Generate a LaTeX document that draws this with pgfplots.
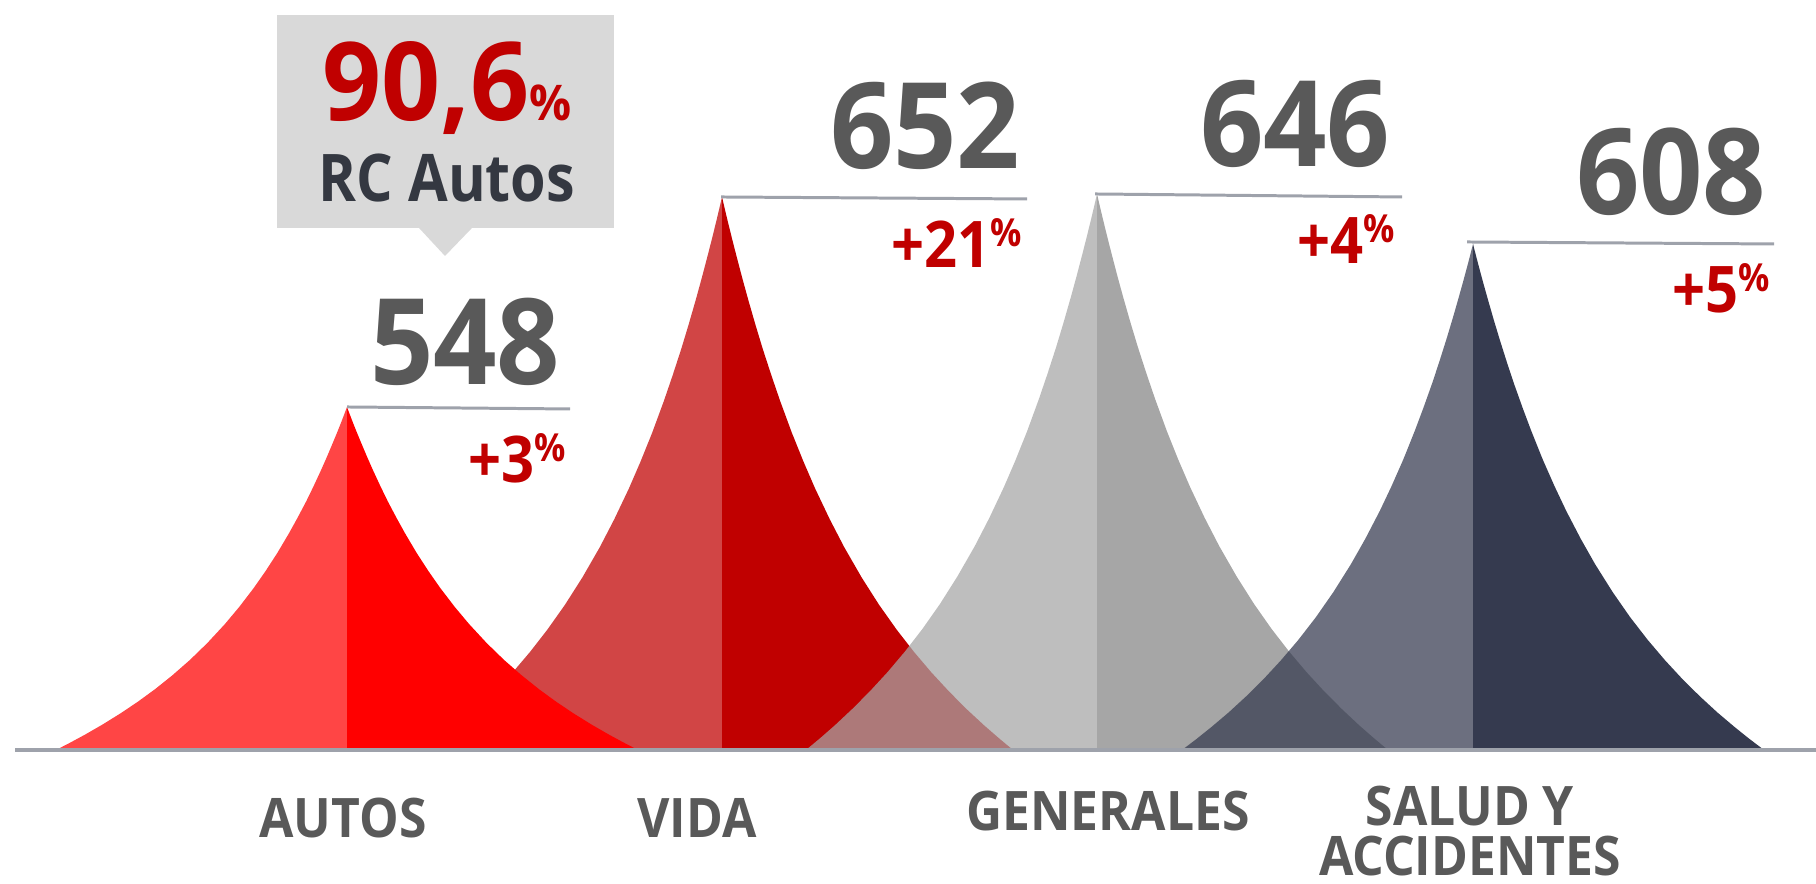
\documentclass[border=0pt]{standalone}
\usepackage{pgfplots}
\pgfplotsset{compat=1.18}
\usepackage{pgfplotstable}
\usepackage{graphicx}
\usepackage{fontspec}
\setmainfont{Open Sans}
\definecolor{numgray}{HTML}{595959}
\definecolor{pctred}{HTML}{C00000}
\definecolor{callout}{HTML}{D9D9D9}
\definecolor{rcdark}{HTML}{343841}
\definecolor{linec}{HTML}{9EA2AB}
\definecolor{cA}{HTML}{FF0000}
\definecolor{cV}{HTML}{C00000}
\definecolor{cG}{HTML}{A6A6A6}
\definecolor{cS}{HTML}{353A4F}
\newcommand{\hs}[2]{\scalebox{#1}[1]{#2}}

% peak outlines: horizontal distance from the peak, height above the base line
\pgfplotstableread{
dx     hA     hV     hG     hS
0      343    553    556    506
2.9    335.3  540.6  543.5  494.6
5.8    327.7  528.4  531.3  483.5
10.2   316.7  510.6  513.4  467.2
14.6   306.1  493.4  496.1  451.5
20.4   292.4  471.4  473.9  431.3
26.2   279.3  450.3  452.7  412.0
33.5   263.6  425.0  427.3  388.9
40.7   248.8  401.2  403.4  367.1
49.5   232.1  374.2  376.2  342.4
58.2   216.4  348.8  350.7  319.2
69.8   196.8  317.3  319.0  290.3
81.5   178.8  288.3  289.8  263.8
93.1   162.2  261.5  262.9  239.3
107.7  143.1  230.8  232.0  211.2
122.2  125.8  202.8  203.9  185.6
139.7  106.9  172.4  173.4  157.8
157.1  90.0   145.1  145.9  132.8
174.6  74.7   120.4  121.0  110.2
192.1  60.7   97.9   98.4   89.6
209.5  48.0   77.4   77.8   70.8
227.0  36.3   58.5   58.8   53.5
244.4  25.5   41.0   41.3   37.5
261.9  15.4   24.8   24.9   22.7
276.5  7.5    12.1   12.1   11.0
291.0  0      0      0      0
}\peaks

\begin{document}
\begin{tikzpicture}
\useasboundingbox (0,0) rectangle (18.16cm,8.84cm);
\begin{axis}[
  at={(0,0)}, anchor=south west,
  scale only axis, width=18.16cm, height=8.84cm,
  xmin=0, xmax=1816, ymin=-134, ymax=750,
  hide axis, clip=false,
]
% VIDA (peak at x=722)
\addplot[draw=none, fill=cV, fill opacity=0.73] table[x expr=722-\thisrow{dx}, y=hV] {\peaks} \closedcycle;
\addplot[draw=none, fill=cV] table[x expr=722+\thisrow{dx}, y=hV] {\peaks} \closedcycle;
% AUTOS (peak at x=347)
\addplot[draw=none, fill=cA, fill opacity=0.73] table[x expr=347-\thisrow{dx}, y=hA] {\peaks} \closedcycle;
\addplot[draw=none, fill=cA] table[x expr=347+\thisrow{dx}, y=hA] {\peaks} \closedcycle;
% GENERALES (peak at x=1097)
\addplot[draw=none, fill=cG, fill opacity=0.73] table[x expr=1097-\thisrow{dx}, y=hG] {\peaks} \closedcycle;
\addplot[draw=none, fill=cG] table[x expr=1097+\thisrow{dx}, y=hG] {\peaks} \closedcycle;
% SALUD Y ACCIDENTES (peak at x=1473)
\addplot[draw=none, fill=cS, fill opacity=0.73] table[x expr=1473-\thisrow{dx}, y=hS] {\peaks} \closedcycle;
\addplot[draw=none, fill=cS] table[x expr=1473+\thisrow{dx}, y=hS] {\peaks} \closedcycle;

% base line and peak lines
\addplot[linec, line width=1pt] coordinates {(15,0) (1816,0)};
\addplot[linec, line width=0.85pt] coordinates {(347,343) (570,341)};
\addplot[linec, line width=0.85pt] coordinates {(721,553) (1027,551)};
\addplot[linec, line width=0.85pt] coordinates {(1095,556) (1402,553)};
\addplot[linec, line width=0.85pt] coordinates {(1467,508) (1774,506)};

% values
\node[anchor=base east, inner sep=0, text=numgray, font=\bfseries\fontsize{34}{36}\selectfont] at (axis cs:561,365) {\hs{0.93}{548}};
\node[anchor=base east, inner sep=0, text=numgray, font=\bfseries\fontsize{34}{36}\selectfont] at (axis cs:1021,581) {\hs{0.93}{652}};
\node[anchor=base east, inner sep=0, text=numgray, font=\bfseries\fontsize{34}{36}\selectfont] at (axis cs:1391,583) {\hs{0.93}{646}};
\node[anchor=base east, inner sep=0, text=numgray, font=\bfseries\fontsize{34}{36}\selectfont] at (axis cs:1767,535) {\hs{0.93}{608}};

% growth
\node[anchor=base east, inner sep=0, text=pctred, font=\bfseries\fontsize{18.3}{20}\selectfont] at (axis cs:567,267) {\hs{0.9}{+3\raisebox{6pt}{\fontsize{11}{12}\selectfont\%}}};
\node[anchor=base east, inner sep=0, text=pctred, font=\bfseries\fontsize{18.3}{20}\selectfont] at (axis cs:1023,482) {\hs{0.9}{+21\raisebox{6pt}{\fontsize{11}{12}\selectfont\%}}};
\node[anchor=base east, inner sep=0, text=pctred, font=\bfseries\fontsize{18.3}{20}\selectfont] at (axis cs:1396,486) {\hs{0.9}{+4\raisebox{6pt}{\fontsize{11}{12}\selectfont\%}}};
\node[anchor=base east, inner sep=0, text=pctred, font=\bfseries\fontsize{18.3}{20}\selectfont] at (axis cs:1771,437) {\hs{0.9}{+5\raisebox{6pt}{\fontsize{11}{12}\selectfont\%}}};

% callout
\fill[callout] (axis cs:277,522) rectangle (axis cs:614,735);
\fill[callout] (axis cs:419,522) -- (axis cs:472,522) -- (axis cs:445,494) -- cycle;
\node[anchor=base, inner sep=0, text=pctred, font=\bfseries\fontsize{31}{33}\selectfont] at (axis cs:447,629) {\hs{0.95}{90,6{\fontsize{14}{16}\selectfont\%}}};
\node[anchor=base, inner sep=0, text=rcdark, font=\bfseries\fontsize{18.7}{20}\selectfont] at (axis cs:447,548) {\hs{0.875}{RC Autos}};

% categories
\node[anchor=base, inner sep=0, text=numgray, font=\bfseries\fontsize{15.5}{17}\selectfont] at (axis cs:343,-88) {\hs{0.915}{AUTOS}};
\node[anchor=base, inner sep=0, text=numgray, font=\bfseries\fontsize{15.5}{17}\selectfont] at (axis cs:697,-88) {\hs{0.915}{VIDA}};
\node[anchor=base, inner sep=0, text=numgray, font=\bfseries\fontsize{15.5}{17}\selectfont] at (axis cs:1108,-81) {\hs{0.915}{GENERALES}};
\node[anchor=south, inner sep=0, align=center, text=numgray, font=\bfseries\fontsize{15.5}{14.2}\selectfont] at (axis cs:1470,-127) {\hs{0.915}{SALUD Y}\\\hs{0.915}{ACCIDENTES}};
\end{axis}
\end{tikzpicture}
\end{document}
